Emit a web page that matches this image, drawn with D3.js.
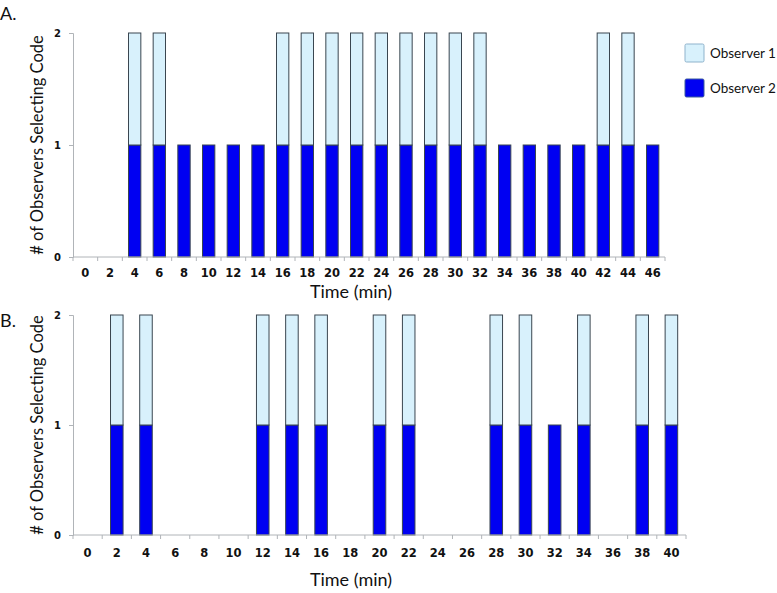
<!DOCTYPE html>
<html>
<head>
<meta charset="utf-8">
<script src="https://cdn.jsdelivr.net/npm/d3@7"></script>
<style>
  body { margin: 0; background: #fff; }
  text { font-family: Lato, "Open Sans", sans-serif; }
</style>
</head>
<body>
<div id="chart"></div>
<script>
// data
const timesA = [0, 2, 4, 6, 8, 10, 12, 14, 16, 18, 20, 22, 24, 26, 28, 30, 32, 34, 36, 38, 40, 42, 44, 46];
const obs2A  = [0, 0, 1, 1, 1, 1, 1, 1, 1, 1, 1, 1, 1, 1, 1, 1, 1, 1, 1, 1, 1, 1, 1, 1];
const obs1A  = [0, 0, 1, 1, 0, 0, 0, 0, 1, 1, 1, 1, 1, 1, 1, 1, 1, 0, 0, 0, 0, 1, 1, 0];

const timesB = [0, 2, 4, 6, 8, 10, 12, 14, 16, 18, 20, 22, 24, 26, 28, 30, 32, 34, 36, 38, 40];
const obs2B  = [0, 1, 1, 0, 0, 0, 1, 1, 1, 0, 1, 1, 0, 0, 1, 1, 1, 1, 0, 1, 1];
const obs1B  = [0, 1, 1, 0, 0, 0, 1, 1, 1, 0, 1, 1, 0, 0, 1, 1, 0, 1, 0, 1, 1];

const series = ["Observer 2", "Observer 1"];
const yTicks = [0, 1, 2];

const colors = {"Observer 1": "#d8f1fc", "Observer 2": "#0000f2"};

const W = 777, H = 593;

const svg = d3.select("#chart").append("svg")
  .attr("width", W)
  .attr("height", H);

function drawPanel(label, times, o1, o2, box) {
  const g = svg.append("g");

  const x = d3.scaleBand()
    .domain(times)
    .range([box.x0, box.x1])
    .paddingInner(box.pad)
    .paddingOuter(box.pad / 2);

  const y = d3.scaleLinear()
    .domain([0, 2])
    .range([box.y0, box.y1]);

  const rows = times.map((t, i) => ({t: t, "Observer 2": o2[i], "Observer 1": o1[i]}));
  const stacked = d3.stack().keys(series)(rows);

  // bars
  g.selectAll("g.layer")
    .data(stacked)
    .join("g")
      .attr("class", "layer")
      .attr("fill", d => colors[d.key])
    .selectAll("rect")
    .data(d => d.filter(v => v[1] > v[0]))
    .join("rect")
      .attr("x", d => x(d.data.t))
      .attr("y", d => y(d[1]))
      .attr("width", x.bandwidth())
      .attr("height", d => y(d[0]) - y(d[1]))
      .attr("stroke", "#3a4650")
      .attr("stroke-width", 1);

  // y axis
  const yAxis = g.append("g")
    .attr("transform", `translate(${box.x0},0)`)
    .call(d3.axisLeft(y).tickValues(yTicks).tickFormat(d3.format("d")).tickSize(4).tickPadding(8));
  yAxis.select(".domain").attr("stroke", "#b0b4b8");
  yAxis.selectAll(".tick line").attr("stroke", "#b0b4b8");
  yAxis.selectAll(".tick text")
    .attr("font-size", 10).attr("font-weight", "bold").attr("fill", "#111")
    .style("font-family", "'DejaVu Sans', sans-serif");

  // x axis with ticks between categories
  const xAxis = g.append("g")
    .attr("transform", `translate(0,${box.y0})`);
  xAxis.append("line")
    .attr("x1", box.x0).attr("x2", box.x1)
    .attr("stroke", "#b0b4b8");
  const step = x.step();
  const bounds = times.map(t => x(t) - (step - x.bandwidth()) / 2).concat([box.x1]);
  xAxis.selectAll("line.tk")
    .data(bounds)
    .join("line")
      .attr("class", "tk")
      .attr("x1", d => d).attr("x2", d => d)
      .attr("y1", 0).attr("y2", 4)
      .attr("stroke", "#b0b4b8");
  xAxis.selectAll("text")
    .data(times)
    .join("text")
      .attr("x", d => x(d) + x.bandwidth() / 2)
      .attr("y", box.tickY)
      .attr("text-anchor", "middle")
      .attr("font-size", 11.5)
      .attr("font-weight", "bold")
      .attr("fill", "#111")
      .style("font-family", "'DejaVu Sans', sans-serif")
      .text(d => d);

  // axis titles
  g.append("text")
    .attr("x", 351)
    .attr("y", box.y0 + box.titleY)
    .attr("text-anchor", "middle")
    .attr("font-size", 18)
    .attr("fill", "#111")
    .text("Time (min)");

  g.append("text")
    .attr("transform", `translate(43,${(box.y0 + box.y1) / 2}) rotate(-90)`)
    .attr("text-anchor", "middle")
    .attr("font-size", 16.5)
    .attr("fill", "#111")
    .text("# of Observers Selecting Code");

  g.append("text")
    .attr("x", 0)
    .attr("y", box.labelY)
    .attr("font-size", 18)
    .attr("fill", "#111")
    .text(label);
}

drawPanel("A.", timesA, obs1A, obs2A,
  {x0: 73, x1: 665, y0: 257, y1: 33, pad: 0.5, labelY: 20, tickY: 20, titleY: 41});
drawPanel("B.", timesB, obs1B, obs2B,
  {x0: 73, x1: 686, y0: 535, y1: 315, pad: 0.57, labelY: 327, tickY: 22, titleY: 51});

// legend
const legend = svg.append("g").attr("transform", "translate(685,44)");
legend.selectAll("g")
  .data(["Observer 1", "Observer 2"])
  .join("g")
    .attr("transform", (d, i) => `translate(0,${i * 35})`)
    .each(function(d) {
      const item = d3.select(this);
      item.append("rect")
        .attr("width", 19).attr("height", 18)
        .attr("rx", 1.5)
        .attr("fill", colors[d])
        .attr("stroke", d === "Observer 1" ? "#8fb3cc" : "#3c5c9c");
      item.append("text")
        .attr("x", 25).attr("y", 14)
        .attr("font-size", 13.5)
        .attr("fill", "#111")
        .text(d);
    });
</script>
</body>
</html>
